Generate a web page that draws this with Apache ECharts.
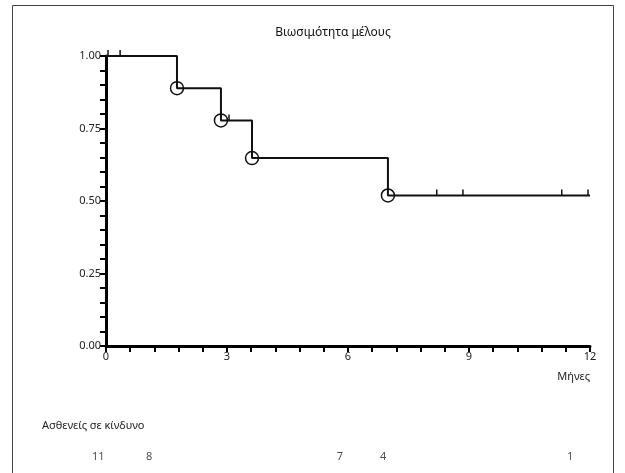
<!DOCTYPE html>
<html>
<head>
<meta charset="utf-8">
<script src="https://cdn.jsdelivr.net/npm/echarts@6/dist/echarts.min.js"></script>
<style>html,body{margin:0;padding:0;background:#fff}#c{width:625px;height:473px}</style>
</head>
<body>
<div id="c"></div>
<script>
// Kaplan-Meier step curve (time in months, survival)
const curveTimes = [0, 1.76, 2.85, 3.62, 6.99, 12];
const curveSurv  = [1.0, 0.889, 0.778, 0.648, 0.519, 0.519];
// event markers (circles)
const eventTimes = [1.76, 2.85, 3.62, 6.99];
const eventSurv  = [0.889, 0.778, 0.648, 0.519];
// censor ticks
const censorTimes = [0.05, 0.35, 3.05, 8.2, 8.85, 11.3, 11.95];
const censorSurv  = [1.0, 1.0, 0.778, 0.519, 0.519, 0.519, 0.519];
// numbers at risk
const riskTimes  = [-0.19, 1.07, 5.8, 6.87, 11.51];
const riskCounts = [11, 8, 7, 4, 1];

const FONT = 'Noto Sans';
const chart = echarts.init(document.getElementById('c'), null, {renderer: 'canvas'});
const zip = (a, b) => a.map((v, i) => [v, b[i]]);

chart.setOption({
  animation: false,
  backgroundColor: '#fff',
  textStyle: {fontFamily: FONT},
  title: [
    {text: 'Βιωσιμότητα μέλους', left: 328, top: 22, textAlign: 'center',
     textStyle: {fontSize: 12, fontWeight: 'normal', color: '#111', fontFamily: FONT}},
    {text: 'Μήνες', left: 585, top: 366, textAlign: 'right',
     textStyle: {fontSize: 11, fontWeight: 'normal', color: '#222', fontFamily: FONT}},
    {text: 'Ασθενείς σε κίνδυνο', left: 37, top: 415,
     textStyle: {fontSize: 11, fontWeight: 'normal', color: '#222', fontFamily: FONT}}
  ],
  graphic: [{
    type: 'rect', shape: {x: 12.5, y: 5.5, width: 601, height: 480},
    style: {fill: 'none', stroke: '#444', lineWidth: 1}, silent: true
  }],
  grid: [
    {left: 106, right: 35, top: 56, bottom: 127},
    {left: 65.63, right: 35, top: 450, height: 14}
  ],
  xAxis: [{
    type: 'value', gridIndex: 0, min: 0, max: 12, interval: 3,
    axisLine: {show: true, onZero: false, lineStyle: {color: '#000', width: 3}},
    axisTick: {show: true, length: 6, lineStyle: {color: '#000', width: 2}},
    minorTick: {show: true, splitNumber: 5, length: 6, lineStyle: {color: '#000', width: 2}},
    axisLabel: {fontSize: 11, color: '#222', margin: 5, fontFamily: FONT},
    splitLine: {show: false}
  }, {
    type: 'value', gridIndex: 1, min: -1, max: 12, show: false
  }],
  yAxis: [{
    type: 'value', gridIndex: 0, min: 0, max: 1, interval: 0.25,
    axisLine: {show: true, lineStyle: {color: '#000', width: 3}},
    axisTick: {show: true, length: 6, lineStyle: {color: '#000', width: 2}},
    minorTick: {show: true, splitNumber: 5, length: 6, lineStyle: {color: '#000', width: 2}},
    axisLabel: {fontSize: 11, color: '#222', margin: 5, fontFamily: FONT,
                formatter: v => v.toFixed(2)},
    splitLine: {show: false}
  }, {
    type: 'value', gridIndex: 1, min: -1, max: 1, show: false
  }],
  series: [{
    type: 'line', xAxisIndex: 0, yAxisIndex: 0, step: 'end',
    data: zip(curveTimes, curveSurv), symbol: 'none',
    lineStyle: {color: '#111', width: 2}, z: 3
  }, {
    type: 'scatter', xAxisIndex: 0, yAxisIndex: 0,
    data: zip(eventTimes, eventSurv), symbol: 'circle', symbolSize: 13,
    itemStyle: {color: 'rgba(0,0,0,0)', borderColor: '#111', borderWidth: 1.5, opacity: 1}, z: 4
  }, {
    type: 'scatter', xAxisIndex: 0, yAxisIndex: 0,
    data: zip(censorTimes, censorSurv), symbol: 'rect', symbolSize: [1.5, 6],
    symbolOffset: [0, -3], itemStyle: {color: '#111', opacity: 1}, z: 4
  }, {
    type: 'scatter', xAxisIndex: 1, yAxisIndex: 1,
    data: riskTimes.map((t, i) => ({value: [t, 0], label: {formatter: String(riskCounts[i])}})),
    symbolSize: 1, itemStyle: {color: 'rgba(0,0,0,0)'},
    label: {show: true, position: 'inside', fontSize: 11, color: '#222', fontFamily: FONT}
  }]
});
</script>
</body>
</html>
